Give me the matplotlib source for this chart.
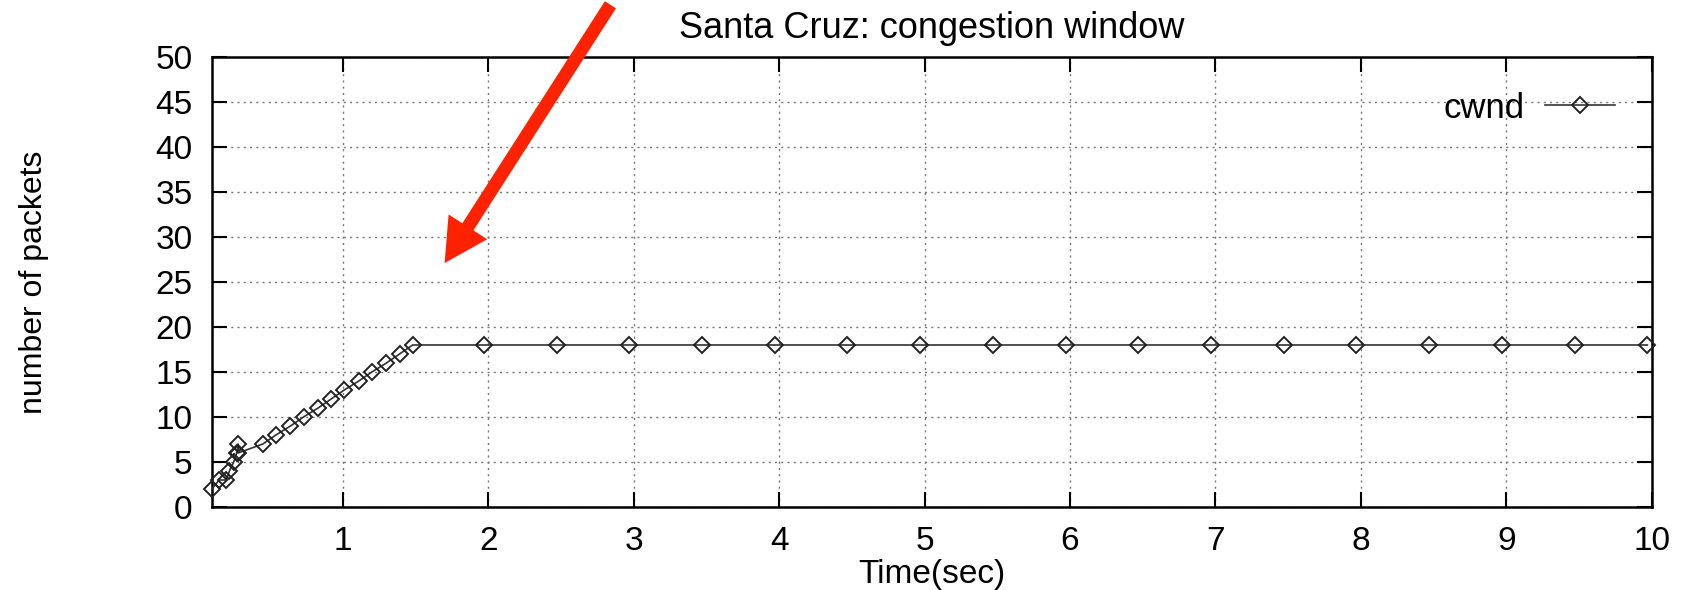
import matplotlib
matplotlib.use("Agg")
import matplotlib.pyplot as plt

plt.rcParams['font.family'] = ['Liberation Sans', 'DejaVu Sans']

# cwnd trace for TCP Santa Cruz
time_sec = [0.10, 0.15, 0.20, 0.22, 0.25, 0.27, 0.28, 0.28,
            0.45, 0.54, 0.64, 0.73, 0.83, 0.92, 1.01, 1.11, 1.20, 1.30, 1.39, 1.48,
            1.97, 2.47, 2.97, 3.47, 3.97, 4.47, 4.97, 5.47, 5.97,
            6.47, 6.97, 7.47, 7.97, 8.47, 8.97, 9.47, 9.97]
cwnd = [2, 3, 3, 4, 5, 6, 7, 6,
        7, 8, 9, 10, 11, 12, 13, 14, 15, 16, 17, 18,
        18, 18, 18, 18, 18, 18, 18, 18, 18,
        18, 18, 18, 18, 18, 18, 18, 18]

x_ticks = [1, 2, 3, 4, 5, 6, 7, 8, 9, 10]
y_ticks = [0, 5, 10, 15, 20, 25, 30, 35, 40, 45, 50]

fig = plt.figure(figsize=(16.82, 5.90), dpi=100)
ax = fig.add_axes([0.126, 0.1407, 0.856, 0.7627])

ax.plot(time_sec, cwnd, color='#333333', lw=1.2, marker='D', markersize=8.5,
        markerfacecolor='none', markeredgecolor='#222222', markeredgewidth=1.4,
        label='cwnd', clip_on=False, zorder=3)

ax.set_xlim(0.1, 10)
ax.set_ylim(0, 50)
ax.set_xticks(x_ticks)
ax.set_yticks(y_ticks)
ax.tick_params(direction='in', length=11, width=1.5, labelsize=24,
               top=True, right=True)
ax.tick_params(axis='y', pad=14)
ax.tick_params(axis='x', pad=14)
ax.grid(True, color='#777777', linestyle=(0, (1.5, 3)), linewidth=1.0)
for s in ax.spines.values():
    s.set_linewidth(1.8)

ax.set_title('Santa Cruz: congestion window', fontsize=26, pad=14)
ax.set_xlabel('Time(sec)', fontsize=24, labelpad=1)
ax.set_ylabel('number of packets', fontsize=23)
ax.yaxis.set_label_coords(-0.113, 0.5)

leg = ax.legend(loc='upper right', bbox_to_anchor=(0.984, 0.954), frameon=False,
                markerfirst=False, fontsize=25, handlelength=2.0,
                handletextpad=0.6, numpoints=1, borderaxespad=0)

# red arrow pointing at the ramp
ax.annotate('', xy=(1.70, 27.1), xytext=(2.84, 55.8),
            arrowprops=dict(facecolor='#ff2200', edgecolor='none', width=9.5,
                            headwidth=33, headlength=31, shrink=0),
            annotation_clip=False)

fig.savefig('out.png', dpi=100)
